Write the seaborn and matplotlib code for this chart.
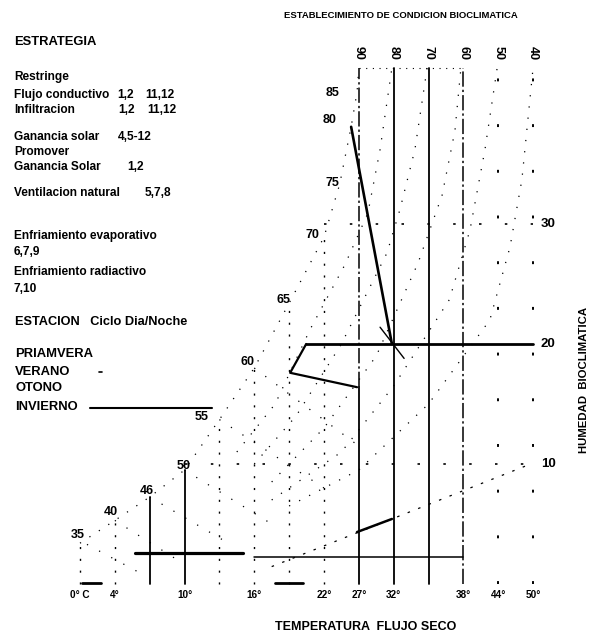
import numpy as np
import matplotlib
matplotlib.use("Agg")
import matplotlib.pyplot as plt
import seaborn as sns

# ---------------------------------------------------------------- data
# columns of the chart grid and the dry-bulb temperatures written under them
temp_cols = [0, 1, 3, 5, 7, 8, 9, 11, 12, 13]
temp_labels = ["0° C", "4°", "10°", "16°", "22°", "27°", "32°", "38°", "44°", "50°"]

# relative-humidity columns labelled along the top
rh_cols = [8, 9, 10, 11, 12, 13]
rh_labels = ["90", "80", "70", "60", "50", "40"]

# bioclimatic humidity levels written on the right
hum_levels = [10, 20, 30]
hum_labels = ["10", "20", "30"]
chart_top = 43.0

# saturation curve (column, humidity) and the numbers written beside it
sat_col = [0.0, 1.0, 2.0, 3.0, 4.0, 5.0, 6.0, 7.0, 7.45, 7.78, 7.95, 8.0]
sat_hum = [3.4, 5.3, 7.25, 9.5, 13.7, 18.0, 23.4, 28.9, 33.3, 38.1, 41.0, 43.0]
sat_lab_col = [-0.06, 0.89, 1.92, 2.96, 3.50, 4.82, 5.83, 6.66, 7.23, 7.17, 7.26]
sat_lab_hum = [4.1, 6.0, 7.75, 9.85, 13.9, 18.5, 23.7, 29.1, 33.4, 38.7, 40.9]
sat_labels = ["35", "40", "46", "50", "55", "60", "65", "70", "75", "80", "85"]

# relative-humidity curves (dotted)
rh80_col = [4.5, 5.6, 6.6, 7.6, 8.26, 8.61, 8.95]
rh80_hum = [11.0, 15.0, 21.2, 26.6, 30.9, 36.2, 43.0]
rh70_col = [5.0, 6.2, 7.5, 8.81, 9.18, 9.61, 9.96]
rh70_hum = [10.0, 14.0, 20.0, 27.6, 31.2, 36.2, 43.0]
rh60_col = [5.5, 7.0, 8.5, 9.7, 10.39, 10.76, 10.93]
rh60_hum = [8.5, 13.0, 19.0, 26.75, 32.4, 37.8, 43.0]
rh50_col = [5.5, 7.5, 9.0, 10.6, 11.19, 11.62, 11.97]
rh50_hum = [7.0, 11.0, 16.5, 23.7, 29.5, 36.2, 43.0]
rh40_col = [6.0, 8.0, 10.0, 11.76, 12.34, 12.68, 13.0]
rh40_hum = [6.5, 9.5, 15.0, 22.0, 28.1, 33.7, 43.0]

# wet-bulb lines leaving the saturation curve
wb_col = [(0.2, 1.8), (1.0, 2.8), (2.0, 4.2), (3.0, 5.5), (4.0, 7.0), (5.0, 8.0)]
wb_hum = [(3.3, 0.8), (5.3, 2.0), (7.25, 3.5), (9.5, 5.0), (13.7, 8.0), (18.0, 11.5)]

# line running to the "10" level on the right
line10_col = [5.5, 13.0]
line10_hum = [1.45, 10.08]

# seasonal day/night traces
summer_col = [7.78, 8.95]
summer_hum = [38.1, 20.0]
summer_tick_col = [8.61, 9.30]
summer_tick_hum = [21.4, 18.8]
spring_col = [6.49, 6.03, 7.95]
spring_hum = [20.0, 17.6, 16.4]
autumn_col = [7.95, 8.95]
autumn_hum = [4.33, 5.42]
winter_col = [1.58, 4.68]
winter_hum = [2.58, 2.58]

# horizontal guide lines
line20_col = [6.49, 13.0]
low_line_col = [5.0, 11.0]
low_line_hum = 2.25
base_marks = [(0.06, 0.6), (5.6, 6.4)]

# ---------------------------------------------------------------- figure
sns.set_theme(style="white")
plt.rcParams['font.family'] = ['Liberation Sans', 'DejaVu Sans']

W, H = 594, 637
fig = plt.figure(figsize=(W / 100, H / 100), dpi=100)
ax = fig.add_axes([0, 0, 1, 1])
# grid column width and humidity unit in pixels, and the origin of the chart
X0, CW, Y0, UH = 80, 34.85, 584, 12
ax.set_xlim(-X0 / CW, (W - X0) / CW)
ax.set_ylim((Y0 - H) / UH, Y0 / UH)
ax.axis('off')

K = 'black'
DOT = (0, (1, 8))
SPARSE = (0, (1.5, 22))
DASHDOT = (0, (10, 2, 1.5, 2))


def fig_text(px, py, s, **kw):
    kw.setdefault('va', 'center')
    kw.setdefault('fontweight', 'bold')
    fig.text(px / W, 1 - py / H, s, color=K, **kw)


# saturation curve and the verticals under it
ax.plot(sat_col, sat_hum, color=K, lw=0.9, ls=DOT)
for c, h in zip(sat_col[:8], sat_hum[:8]):
    if c in (2.0, 3.0):
        ax.plot([c, c], [0, h], color=K, lw=1.3)
    else:
        ax.plot([c, c], [0, h], color=K, lw=1.0, ls=(0, (1.5, 7)))
for c, h, s in zip(sat_lab_col, sat_lab_hum, sat_labels):
    ax.text(c, h, s, ha='center', va='center', fontsize=9,
            fontweight='bold', color=K)

# main verticals of the relative-humidity columns
ax.plot([8, 8], [0, 16.4], color=K, lw=1.3)
ax.plot([8, 8], [16.4, chart_top], color=K, lw=1.1, ls=DASHDOT)
for c in (9, 10):
    ax.plot([c, c], [0, chart_top], color=K, lw=1.3)
ax.plot([11, 11], [0, chart_top], color=K, lw=1.1, ls=DASHDOT)
for c in (12, 13):
    ax.plot([c, c], [0, chart_top], color=K, lw=1.4, ls=SPARSE)
ax.plot([8, 11], [chart_top, chart_top], color=K, lw=0.8, ls=(0, (1, 5)))

# relative-humidity curves
for cx, hy in [(rh80_col, rh80_hum), (rh70_col, rh70_hum), (rh60_col, rh60_hum),
               (rh50_col, rh50_hum), (rh40_col, rh40_hum)]:
    ax.plot(cx, hy, color=K, lw=0.9, ls=DOT)

# wet-bulb lines
for cx, hy in zip(wb_col, wb_hum):
    ax.plot(cx, hy, color=K, lw=0.9, ls=(0, (1, 10)))

# dotted levels at 10 and 30
ax.plot([3, 13], [10, 10], color=K, lw=1.2, ls=(0, (1.5, 14)))
ax.plot([7, 13], [30, 30], color=K, lw=1.2, ls=(0, (1.5, 14)))
ax.plot(line10_col, line10_hum, color=K, lw=0.9, ls=(0, (2, 7)))

# solid horizontal guides
ax.plot(line20_col, [20, 20], color=K, lw=2.0)
ax.plot(low_line_col, [low_line_hum, low_line_hum], color=K, lw=1.1)
for a, b in base_marks:
    ax.plot([a, b], [0.08, 0.08], color=K, lw=2.0)

# seasonal traces
sns.lineplot(x=summer_col, y=summer_hum, sort=False, estimator=None,
             color=K, lw=1.9, ax=ax)
sns.lineplot(x=summer_tick_col, y=summer_tick_hum, sort=False, estimator=None,
             color=K, lw=1.0, ax=ax)
sns.lineplot(x=spring_col, y=spring_hum, sort=False, estimator=None,
             color=K, lw=1.6, ax=ax)
sns.lineplot(x=autumn_col, y=autumn_hum, sort=False, estimator=None,
             color=K, lw=1.8, ax=ax)
sns.lineplot(x=winter_col, y=winter_hum, sort=False, estimator=None,
             color=K, lw=2.3, ax=ax)

# axis labels written in data coordinates
for c, s in zip(temp_cols, temp_labels):
    ax.text(c, -0.95, s, ha='center', va='center', fontsize=7.2,
            fontweight='bold', color=K)
for c, s in zip(rh_cols, rh_labels):
    ax.text(c, 44.25, s, ha='center', va='center', rotation=-90,
            fontsize=9, fontweight='bold', color=K)
for h, s in zip(hum_levels, hum_labels):
    ax.text(13.22, h, s, ha='left', va='center', fontsize=9.5,
            fontweight='bold', color=K)

# titles
fig_text(401, 15, "ESTABLECIMIENTO DE CONDICION BIOCLIMATICA", ha='center',
         fontsize=6.8)
fig_text(366, 627, "TEMPERATURA  FLUJO SECO", ha='center', fontsize=9)
fig_text(584, 380, "HUMEDAD  BIOCLIMATICA", ha='center', rotation=90,
         fontsize=8.2)

# strategy list
FS = 8.6
rows = [
    (14, 42, "ESTRATEGIA", 9.4),
    (14, 77, "Restringe", FS),
    (14, 95, "Flujo conductivo", FS), (117, 95, "1,2", FS), (145, 95, "11,12", FS),
    (14, 110, "Infiltracion", FS), (118, 110, "1,2", FS), (147, 110, "11,12", FS),
    (14, 137, "Ganancia solar", FS), (118, 137, "4,5-12", FS),
    (14, 152, "Promover", FS),
    (14, 167, "Ganancia Solar", FS), (127, 167, "1,2", FS),
    (14, 193, "Ventilacion natural", FS), (145, 193, "5,7,8", FS),
    (14, 236, "Enfriamiento evaporativo", FS),
    (14, 252, "6,7,9", FS),
    (14, 272, "Enfriamiento radiactivo", FS),
    (14, 289, "7,10", FS),
    (15, 322, "ESTACION   Ciclo Dia/Noche", 9.2),
    (15, 354, "PRIAMVERA", 9.4),
    (15, 372, "VERANO", 9.4),
    (15, 388, "OTONO", 9.4),
    (15, 407, "INVIERNO", 9.4),
]
for px, py, s, fs in rows:
    fig_text(px, py, s, ha='left', fontsize=fs)

# season key marks
ax.plot([(99 - X0) / CW, (102 - X0) / CW], [(Y0 - 372) / UH] * 2, color=K, lw=1.2)
ax.plot([(90 - X0) / CW, (212 - X0) / CW], [(Y0 - 408) / UH] * 2, color=K, lw=1.5)

fig.savefig("out.png", dpi=100, facecolor='white')
